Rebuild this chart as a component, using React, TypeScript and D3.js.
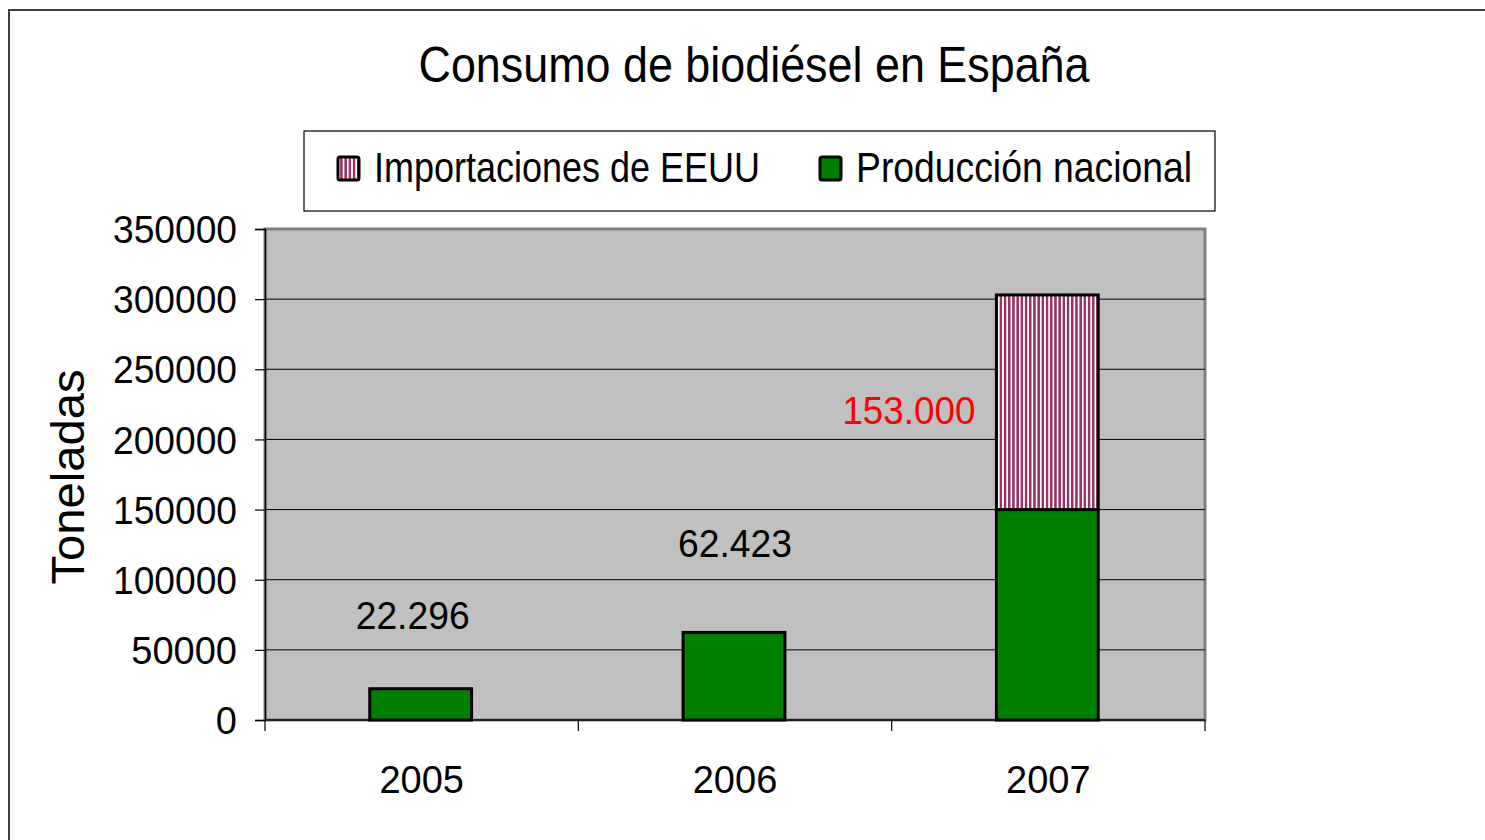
import * as d3 from "d3";
import { useEffect, useRef } from "react";

const years = ["2005", "2006", "2007"];
const produccion = [22296, 62423, 150000];
const importaciones = [0, 0, 153000];
const valueLabels = ["22.296", "62.423", ""];
const importLabels = ["", "", "153.000"];
const yTicks = [0, 50000, 100000, 150000, 200000, 250000, 300000, 350000];
const seriesNames = ["Importaciones de EEUU", "Producción nacional"];

const W = 1485;
const H = 840;
const font = "'Liberation Sans', Arial, sans-serif";

const App = () => {
  const ref = useRef<SVGSVGElement>(null);

  useEffect(() => {
    const svg = d3.select(ref.current);
    svg.selectAll("*").remove();

    const plot = { left: 265, right: 1205, top: 229, bottom: 720 };

    const defs = svg.append("defs");
    const pat = defs
      .append("pattern")
      .attr("id", "stripes")
      .attr("patternUnits", "userSpaceOnUse")
      .attr("width", 4.2)
      .attr("height", 8);
    pat.append("rect").attr("width", 4.2).attr("height", 8).attr("fill", "#ffffff");
    pat.append("rect").attr("width", 2.5).attr("height", 8).attr("fill", "#993366");

    // outer frame
    svg
      .append("path")
      .attr("d", `M9,${H + 5} L9,10 L${W + 5},10`)
      .attr("fill", "none")
      .attr("stroke", "#404040")
      .attr("stroke-width", 2);

    // title
    svg
      .append("text")
      .attr("x", 754)
      .attr("y", 82)
      .attr("text-anchor", "middle")
      .attr("font-family", font)
      .attr("font-size", 50)
      .attr("textLength", 671)
      .attr("lengthAdjust", "spacingAndGlyphs")
      .text("Consumo de biodiésel en España");

    // legend
    const lg = svg.append("g");
    lg.append("rect")
      .attr("x", 304)
      .attr("y", 131)
      .attr("width", 911)
      .attr("height", 80)
      .attr("fill", "#ffffff")
      .attr("stroke", "#000000")
      .attr("stroke-width", 1.2);
    const legendItems = [
      { name: seriesNames[0], fill: "url(#stripes)", mx: 338, tx: 374, tl: 386 },
      { name: seriesNames[1], fill: "#008000", mx: 820, tx: 856, tl: 336 },
    ];
    legendItems.forEach((it) => {
      lg.append("rect")
        .attr("x", it.mx)
        .attr("y", 157)
        .attr("width", 21)
        .attr("height", 23)
        .attr("rx", 2)
        .attr("fill", it.fill)
        .attr("stroke", "#000000")
        .attr("stroke-width", 3);
      lg.append("text")
        .attr("x", it.tx)
        .attr("y", 182)
        .attr("font-family", font)
        .attr("font-size", 42)
        .attr("textLength", it.tl)
        .attr("lengthAdjust", "spacingAndGlyphs")
        .text(it.name);
    });

    const x = d3
      .scaleBand()
      .domain(years)
      .range([plot.left, plot.right])
      .paddingInner(0)
      .paddingOuter(0);
    const y = d3
      .scaleLinear()
      .domain([0, 350000])
      .range([plot.bottom, plot.top]);

    // plot area
    svg
      .append("rect")
      .attr("x", plot.left)
      .attr("y", plot.top)
      .attr("width", plot.right - plot.left)
      .attr("height", plot.bottom - plot.top)
      .attr("fill", "#c0c0c0")
      .attr("stroke", "#808080")
      .attr("stroke-width", 3);

    // gridlines
    svg
      .append("g")
      .selectAll("line")
      .data(yTicks.filter((t) => t > 0 && t < 350000))
      .join("line")
      .attr("x1", plot.left)
      .attr("x2", plot.right)
      .attr("y1", (d) => y(d))
      .attr("y2", (d) => y(d))
      .attr("stroke", "#000000")
      .attr("stroke-width", 1);

    // y axis
    const yAxis = svg
      .append("g")
      .attr("transform", `translate(${plot.left},0)`)
      .call(
        d3
          .axisLeft(y)
          .tickValues(yTicks)
          .tickSize(10)
          .tickPadding(18)
          .tickFormat((d) => String(d))
      );
    yAxis.select(".domain").attr("stroke", "#000000").attr("stroke-width", 1.5);
    yAxis.selectAll(".tick line").attr("stroke", "#000000").attr("stroke-width", 1.2);
    yAxis
      .selectAll(".tick text")
      .attr("font-family", font)
      .attr("font-size", 38)
      .attr("textLength", 124)
      .attr("lengthAdjust", "spacingAndGlyphs")
      .attr("fill", "#000000")
      .attr("dy", "0.36em");
    yAxis
      .selectAll(".tick text")
      .filter((d: any) => String(d).length < 6)
      .attr("textLength", null);

    // x axis
    const xAxis = svg
      .append("g")
      .attr("transform", `translate(0,${plot.bottom})`)
      .call(d3.axisBottom(x).tickSize(0).tickPadding(73));
    xAxis.select(".domain").remove();
    xAxis
      .append("line")
      .attr("x1", plot.left)
      .attr("x2", plot.right)
      .attr("stroke", "#000000")
      .attr("stroke-width", 1.5);
    xAxis
      .selectAll("line.sep")
      .data(d3.range(years.length + 1))
      .join("line")
      .attr("class", "sep")
      .attr("x1", (i) => plot.left + i * x.step())
      .attr("x2", (i) => plot.left + i * x.step())
      .attr("y1", 0)
      .attr("y2", 11)
      .attr("stroke", "#000000")
      .attr("stroke-width", 1.2);
    xAxis
      .selectAll(".tick text")
      .attr("font-family", font)
      .attr("font-size", 38)
      .attr("fill", "#000000")
      .attr("dy", "0");

    // stacked bars
    const rows = years.map((yr, i) => ({
      year: yr,
      produccion: produccion[i],
      importaciones: importaciones[i],
    }));
    const stack = d3.stack<any>().keys(["produccion", "importaciones"]);
    const series = stack(rows);
    const colors: Record<string, string> = {
      produccion: "#008000",
      importaciones: "url(#stripes)",
    };
    const barW = x.bandwidth() * 0.325;
    const barX = (yr: string) => (x(yr) as number) + x.bandwidth() / 2 - barW / 2 - 1;

    series.forEach((s) => {
      svg
        .append("g")
        .selectAll("rect")
        .data(s.filter((d) => d[1] - d[0] > 0))
        .join("rect")
        .attr("x", (d) => barX(d.data.year))
        .attr("y", (d) => y(d[1]))
        .attr("width", barW)
        .attr("height", (d) => y(d[0]) - y(d[1]))
        .attr("fill", colors[s.key])
        .attr("stroke", "#000000")
        .attr("stroke-width", 3);
    });

    // value labels (text boxes placed above the bars)
    const labelOffsets = [60, 75, 0];
    const labelShift = [-9, 0, 0];
    years.forEach((yr, i) => {
      if (valueLabels[i]) {
        svg
          .append("text")
          .attr("x", (x(yr) as number) + x.bandwidth() / 2 + labelShift[i])
          .attr("y", y(produccion[i]) - labelOffsets[i])
          .attr("text-anchor", "middle")
          .attr("font-family", font)
          .attr("font-size", 39)
          .attr("textLength", 114)
          .attr("lengthAdjust", "spacingAndGlyphs")
          .attr("fill", "#000000")
          .text(valueLabels[i]);
      }
      if (importLabels[i]) {
        const mid = (y(produccion[i]) + y(produccion[i] + importaciones[i])) / 2;
        svg
          .append("text")
          .attr("x", barX(yr) - 21)
          .attr("y", mid + 22)
          .attr("text-anchor", "end")
          .attr("font-family", font)
          .attr("font-size", 39)
          .attr("textLength", 133)
          .attr("lengthAdjust", "spacingAndGlyphs")
          .attr("fill", "#ff0000")
          .text(importLabels[i]);
      }
    });

    // y axis title
    svg
      .append("text")
      .attr("transform", `translate(84,477) rotate(-90)`)
      .attr("text-anchor", "middle")
      .attr("font-family", font)
      .attr("font-size", 46)
      .attr("textLength", 215)
      .attr("lengthAdjust", "spacingAndGlyphs")
      .attr("fill", "#000000")
      .text("Toneladas");
  }, []);

  return (
    <svg
      ref={ref}
      width={W}
      height={H}
      style={{ position: "absolute", left: 0, top: 0, background: "#ffffff" }}
    />
  );
};

export default App;
